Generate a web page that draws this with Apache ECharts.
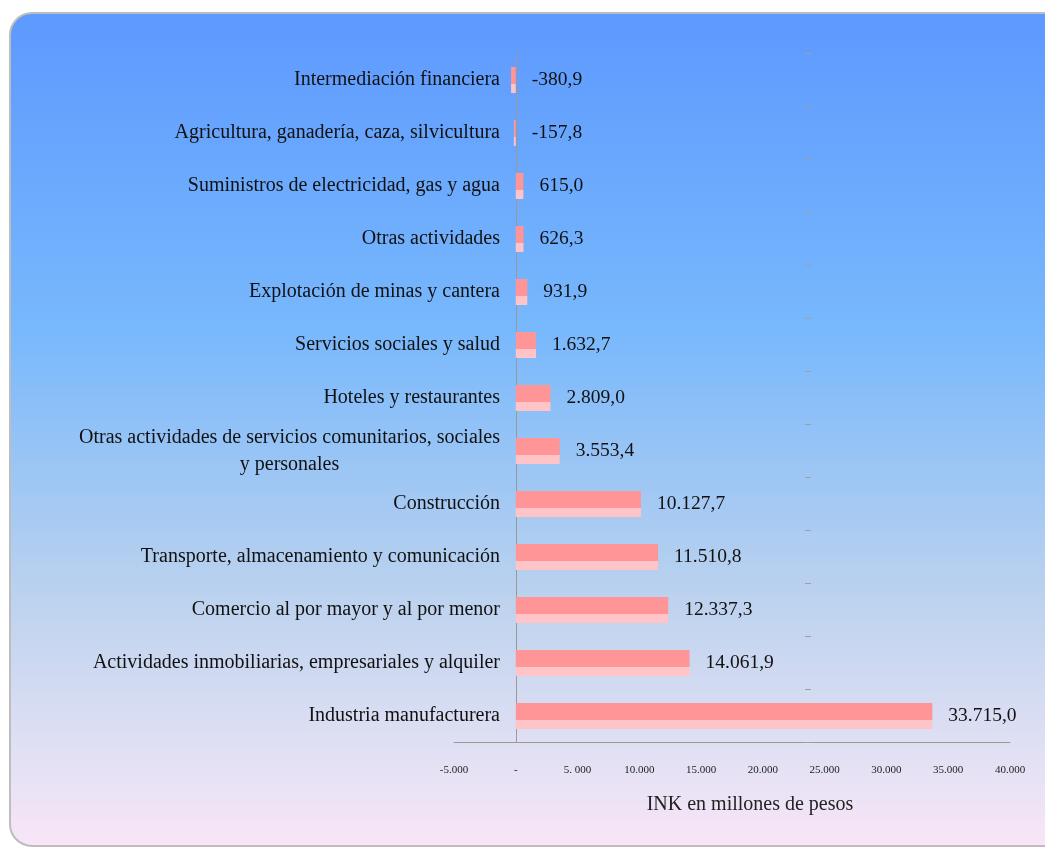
<!DOCTYPE html>
<html>
<head>
<meta charset="utf-8">
<script src="https://cdn.jsdelivr.net/npm/echarts@6/dist/echarts.min.js"></script>
<style>
  html, body { margin: 0; padding: 0; background: #fff; }
  #chart { width: 1045px; height: 847px; }
</style>
</head>
<body>
<div id="chart"></div>
<script>
  // sectors, top to bottom as drawn
  var sectors = [
    'Intermediación financiera',
    'Agricultura, ganadería, caza, silvicultura',
    'Suministros de electricidad, gas y agua',
    'Otras actividades',
    'Explotación de minas y cantera',
    'Servicios sociales y salud',
    'Hoteles y restaurantes',
    'Otras actividades de servicios comunitarios, sociales\ny personales',
    'Construcción',
    'Transporte, almacenamiento y comunicación',
    'Comercio al por mayor y al por menor',
    'Actividades inmobiliarias, empresariales y alquiler',
    'Industria manufacturera'
  ];
  // INK, millones de pesos
  var inkValues = [-380.9, -157.8, 615.0, 626.3, 931.9, 1632.7, 2809.0, 3553.4,
                   10127.7, 11510.8, 12337.3, 14061.9, 33715.0];
  var axisMin = -5000, axisMax = 40000, axisStep = 5000;

  var serif = '"Liberation Serif", "DejaVu Serif", serif';

  function esNumber(v, decimals) {
    var neg = v < 0;
    var s = Math.abs(v).toFixed(decimals);
    var parts = s.split('.');
    var int = parts[0].replace(/\B(?=(\d{3})+(?!\d))/g, '.');
    return (neg ? '-' : '') + int + (parts[1] ? ',' + parts[1] : '');
  }

  var barColor = new echarts.graphic.LinearGradient(0, 0, 0, 1, [
    { offset: 0, color: '#ff9597' },
    { offset: 0.64, color: '#ff9597' },
    { offset: 0.64, color: '#ffc4c7' },
    { offset: 1, color: '#ffc4c7' }
  ]);

  var option = {
    animation: false,
    graphic: [{
      type: 'rect',
      z: -10,
      shape: { x: 10, y: 13, width: 1060, height: 833, r: 22 },
      style: {
        fill: new echarts.graphic.LinearGradient(0, 0, 0, 1, [
          { offset: 0, color: '#5d99ff' },
          { offset: 0.38, color: '#78b8fc' },
          { offset: 0.70, color: '#bcd2ee' },
          { offset: 0.88, color: '#e0e0f4' },
          { offset: 1, color: '#f9e5f7' }
        ]),
        stroke: '#bdbdbd',
        lineWidth: 2
      }
    }],
    grid: { left: 454, right: 35, top: 53.5, bottom: 104.5, outerBoundsMode: 'none', containLabel: false },
    xAxis: {
      type: 'value',
      min: axisMin,
      max: axisMax,
      interval: axisStep,
      splitLine: { show: false },
      axisTick: { show: false },
      axisLine: { show: true, lineStyle: { color: '#999', width: 1 } },
      axisLabel: {
        margin: 22,
        fontFamily: serif,
        fontSize: 11,
        color: '#222',
        formatter: function (v) {
          if (v === 0) return '-';
          if (v === 5000) return '5. 000';
          return esNumber(v, 0);
        }
      },
      name: 'INK en millones de pesos',
      nameLocation: 'middle',
      nameGap: 52,
      nameTextStyle: {
        fontFamily: serif,
        fontSize: 20,
        color: '#222',
        padding: [0, 0, 0, 36]
      }
    },
    yAxis: [{
      type: 'category',
      inverse: true,
      data: sectors,
      axisLine: { onZero: true, lineStyle: { color: '#999' } },
      axisTick: { show: false },
      axisLabel: {
        margin: -46,
        fontFamily: serif,
        fontSize: 20,
        color: '#111',
        lineHeight: 27,
        formatter: function (v) {
          if (v.indexOf('\n') < 0) return v;
          return v.split('\n').map(function (l) { return '{c|' + l + '}'; }).join('\n');
        },
        rich: {
          c: { align: 'center', fontFamily: serif, fontSize: 20, color: '#111', lineHeight: 27 }
        }
      }
    }, {
      type: 'category',
      inverse: true,
      position: 'right',
      offset: -205,
      data: sectors,
      axisLine: { show: false },
      axisLabel: { show: false },
      axisTick: { show: true, length: 6, lineStyle: { color: '#a0a0a0' } }
    }],
    series: [{
      type: 'bar',
      data: inkValues,
      barWidth: 26,
      itemStyle: { color: barColor },
      label: {
        show: true,
        position: 'right',
        distance: 16,
        fontFamily: serif,
        fontSize: 19.5,
        color: '#111',
        formatter: function (p) { return esNumber(p.value, 1); }
      }
    }]
  };

  var chart = echarts.init(document.getElementById('chart'));
  chart.setOption(option);
</script>
</body>
</html>
